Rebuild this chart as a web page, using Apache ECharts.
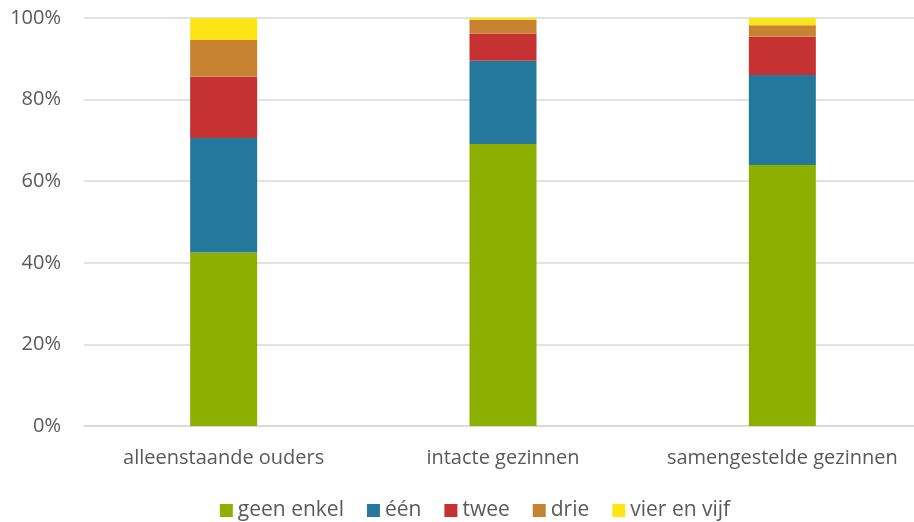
<!DOCTYPE html>
<html>
<head>
<meta charset="utf-8">
<script src="https://cdn.jsdelivr.net/npm/echarts@6/dist/echarts.min.js"></script>
<style>
  html, body { margin: 0; padding: 0; background: #fff; overflow: hidden; }
  #chart { width: 950px; height: 522px; }
</style>
</head>
<body>
<div id="chart"></div>
<script>
const categories = ['alleenstaande ouders', 'intacte gezinnen', 'samengestelde gezinnen'];
const seriesNames = ['geen enkel', 'één', 'twee', 'drie', 'vier en vijf'];
const geenEnkel = [42.5, 69.1, 64.0];
const een = [28.1, 20.4, 22.0];
const twee = [15.0, 6.7, 9.4];
const drie = [9.0, 3.3, 2.8];
const vierEnVijf = [5.4, 0.5, 1.8];
const colors = ['#8CAF00', '#24789B', '#C63131', '#C78232', '#FFE417'];

const values = [geenEnkel, een, twee, drie, vierEnVijf];
const font = 'Open Sans';

// the original chart is a little wider than the window and gets cut off on the right
const chart = echarts.init(document.getElementById('chart'));
chart.setOption({
  animation: false,
  textStyle: { fontFamily: font },
  grid: { left: 84, top: 18, width: 838, height: 408, containLabel: false },
  legend: {
    bottom: -4,
    left: 'center',
    itemWidth: 13,
    itemHeight: 13,
    itemGap: 23,
    icon: 'rect',
    textStyle: { fontSize: 21, color: '#595959', fontFamily: font },
    data: seriesNames
  },
  xAxis: {
    type: 'category',
    data: categories,
    axisLine: { show: true, lineStyle: { color: '#D9D9D9', width: 1.5 } },
    axisTick: { show: false },
    axisLabel: { interval: 0, fontSize: 20, color: '#595959', margin: 22, fontFamily: font }
  },
  yAxis: {
    type: 'value',
    min: 0,
    max: 100,
    interval: 20,
    axisLine: { show: false },
    axisTick: { show: false },
    splitLine: { lineStyle: { color: '#D9D9D9', width: 1.5 } },
    axisLabel: { fontSize: 20, color: '#595959', margin: 23, fontFamily: font, formatter: '{value}%' }
  },
  series: seriesNames.map((name, i) => ({
    name: name,
    type: 'bar',
    stack: 'total',
    barWidth: 67,
    data: values[i],
    itemStyle: { color: colors[i] }
  }))
});
</script>
</body>
</html>
